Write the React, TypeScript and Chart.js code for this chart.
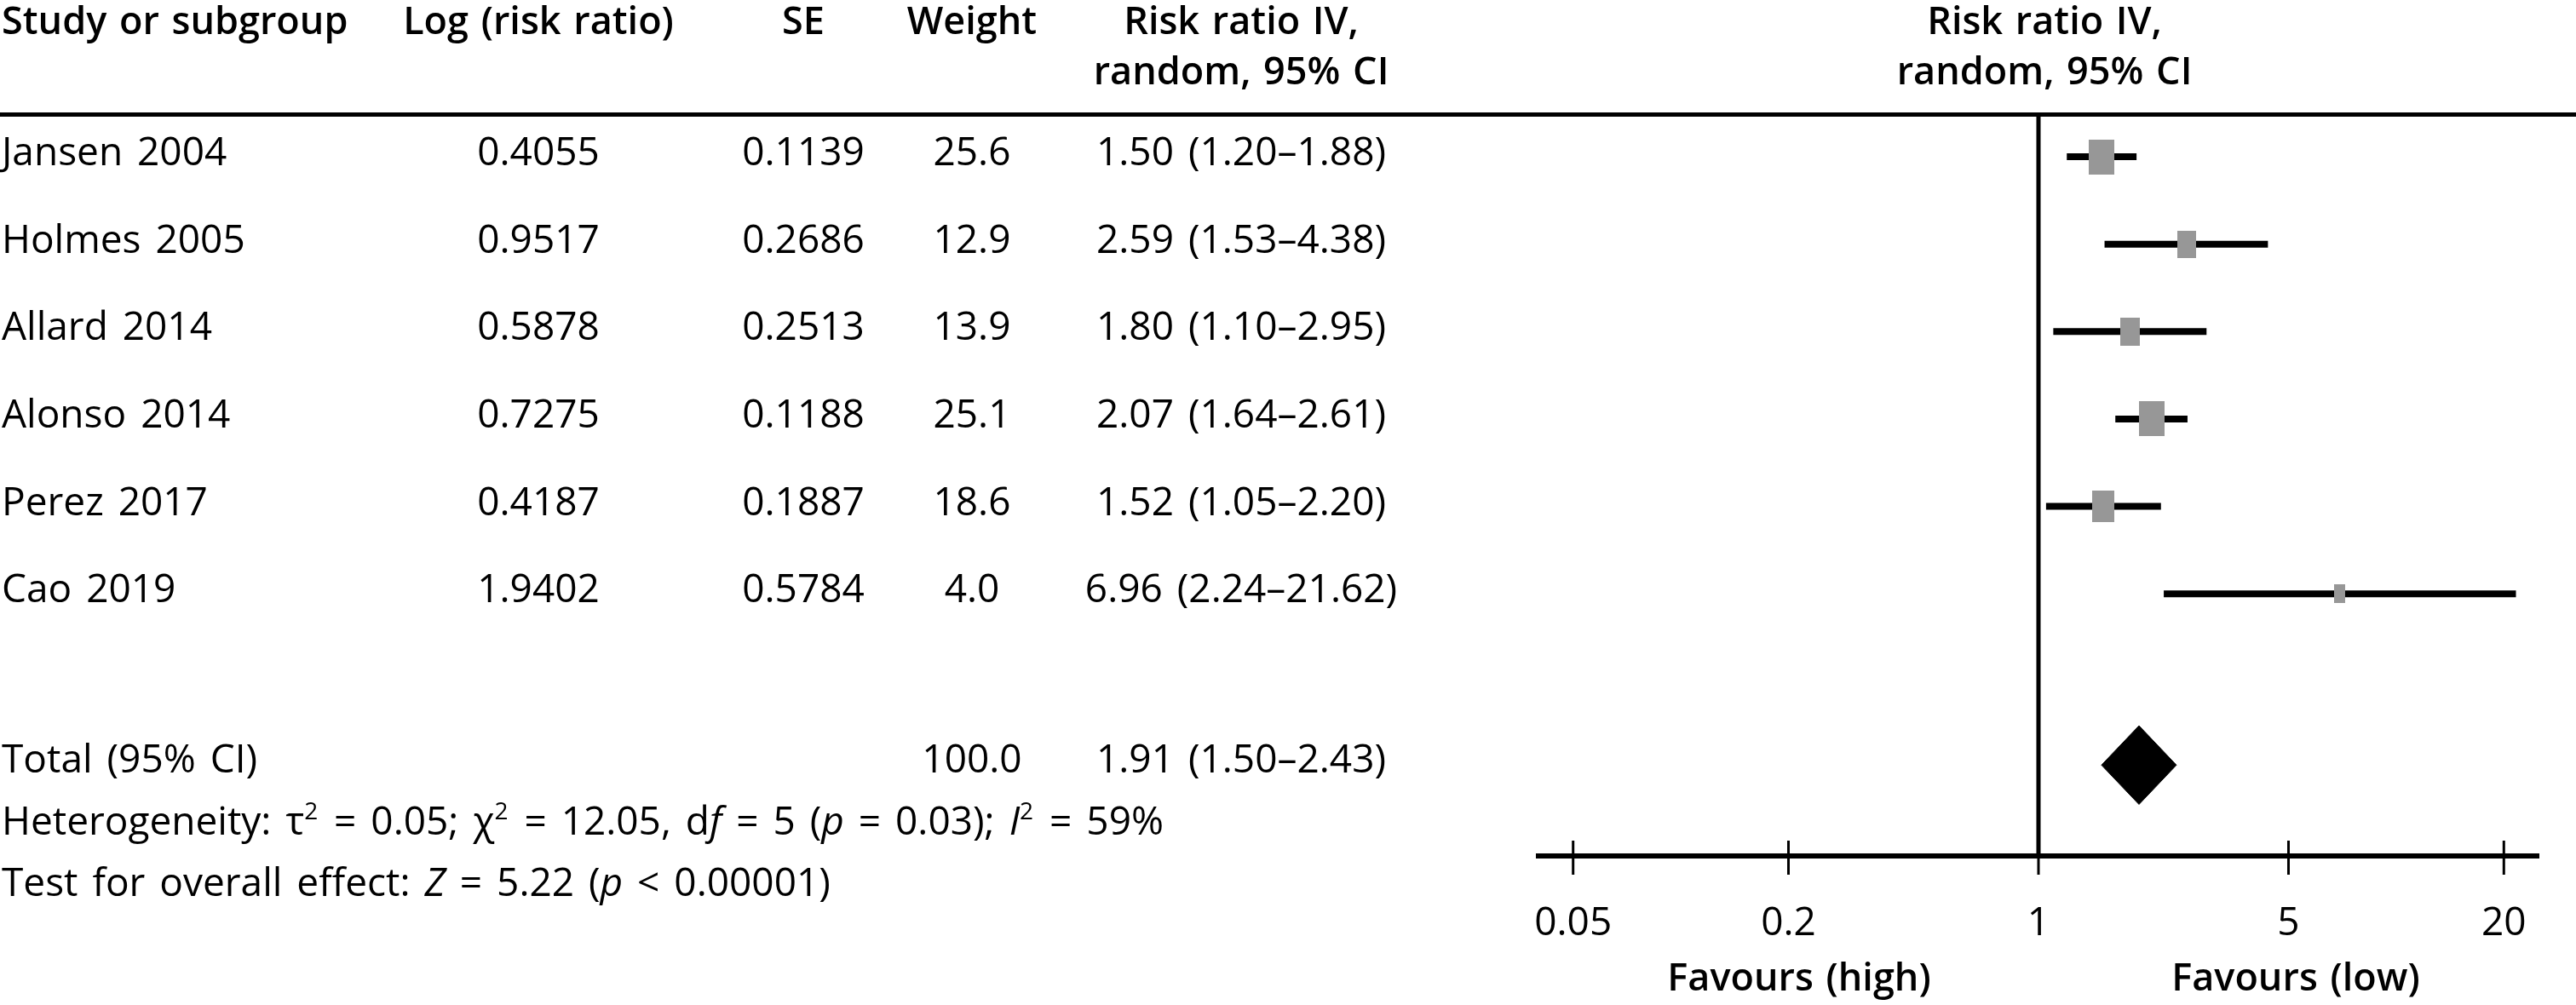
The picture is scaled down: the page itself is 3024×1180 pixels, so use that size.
import React, { useEffect, useRef } from 'react';
import { Chart, registerables } from 'chart.js';

Chart.register(...registerables);

// ---------- data ----------
const studies = ['Jansen 2004', 'Holmes 2005', 'Allard 2014', 'Alonso 2014', 'Perez 2017', 'Cao 2019'];
const logRiskRatio = [0.4055, 0.9517, 0.5878, 0.7275, 0.4187, 1.9402];
const seValues = [0.1139, 0.2686, 0.2513, 0.1188, 0.1887, 0.5784];
const weights = [25.6, 12.9, 13.9, 25.1, 18.6, 4.0];
const riskRatio = [1.5, 2.59, 1.8, 2.07, 1.52, 6.96];
const ciLow = [1.2, 1.53, 1.1, 1.64, 1.05, 2.24];
const ciHigh = [1.88, 4.38, 2.95, 2.61, 2.2, 21.62];
const totalWeight = 100.0;
const totalRR = 1.91;
const totalLow = 1.5;
const totalHigh = 2.43;
const xTicks = [0.05, 0.2, 1, 5, 20];
const studyRows = [1, 2, 3, 4, 5, 6];
const totalRow = 7.96;

// ---------- styles ----------
const FAMILY = "'Open Sans', 'Noto Sans', sans-serif";
const REG = `46px ${FAMILY}`;
const ITAL = `italic 46px ${FAMILY}`;
const SUP = `28px ${FAMILY}`;
const BOLD = `600 45px ${FAMILY}`;
const BOX_COLOR = '#979797';
const DIAMOND_HALF = 0.45;
const WORD_GAP = 5;

const COL_STUDY = 2;
const COL_LOG = 632;
const COL_SE = 943;
const COL_WT = 1141;
const COL_CI = 1457;
const COL_PLOT_HEAD = 2400;

const fmtCI = (v: number, lo: number, hi: number) =>
  `${v.toFixed(2)} (${lo.toFixed(2)}\u2013${hi.toFixed(2)})`;

type Seg = { t: string; k?: 'i' | 's' };

const hetSegs: Seg[] = [
  { t: 'Heterogeneity: \u03c4' },
  { t: '2', k: 's' },
  { t: ' = 0.05; \u03c7' },
  { t: '2', k: 's' },
  { t: ' = 12.05, d' },
  { t: 'f', k: 'i' },
  { t: ' = 5 (' },
  { t: 'p', k: 'i' },
  { t: ' = 0.03); ' },
  { t: 'I', k: 'i' },
  { t: '2', k: 's' },
  { t: ' = 59%' },
];
const testSegs: Seg[] = [
  { t: 'Test for overall effect: ' },
  { t: 'Z', k: 'i' },
  { t: ' = 5.22 (' },
  { t: 'p', k: 'i' },
  { t: ' < 0.00001)' },
];

// width of a string with extra word spacing
function wide(ctx: CanvasRenderingContext2D, t: string, gap: number) {
  const spaces = (t.match(/ /g) || []).length;
  return ctx.measureText(t).width + spaces * gap;
}

// draw a string, adding extra gap at each space
function drawSpaced(ctx: CanvasRenderingContext2D, t: string, x: number, y: number, gap: number) {
  const parts = t.split(' ');
  let cx = x;
  const sp = ctx.measureText(' ').width + gap;
  parts.forEach((p, i) => {
    if (p) ctx.fillText(p, cx, y);
    cx += ctx.measureText(p).width;
    if (i < parts.length - 1) cx += sp;
  });
  return cx;
}

function text(ctx: CanvasRenderingContext2D, t: string, x: number, y: number, font: string, align: 'left' | 'center', gap = 0) {
  ctx.font = font;
  ctx.textAlign = 'left';
  ctx.textBaseline = 'alphabetic';
  ctx.fillStyle = '#000';
  const w = wide(ctx, t, gap);
  const sx = align === 'center' ? x - w / 2 : x;
  drawSpaced(ctx, t, sx, y, gap);
}

function rich(ctx: CanvasRenderingContext2D, segs: Seg[], x: number, y: number) {
  let cx = x;
  ctx.textAlign = 'left';
  ctx.textBaseline = 'alphabetic';
  ctx.fillStyle = '#000';
  for (const s of segs) {
    ctx.font = s.k === 'i' ? ITAL : s.k === 's' ? SUP : REG;
    const dy = s.k === 's' ? -18 : 0;
    cx = drawSpaced(ctx, s.t, cx, y + dy, WORD_GAP) + (s.k === 's' ? 2 : 0);
  }
}

const forestPlugin = {
  id: 'forestTable',
  beforeDatasetsDraw(chart: any) {
    const { ctx, chartArea, scales } = chart;
    const x1 = scales.x.getPixelForValue(1);
    ctx.save();
    ctx.strokeStyle = '#000';
    ctx.lineWidth = 5;
    ctx.beginPath();
    ctx.moveTo(x1, chartArea.top);
    ctx.lineTo(x1, chartArea.bottom);
    ctx.stroke();
    ctx.restore();
  },
  afterDraw(chart: any) {
    const { ctx, chartArea, scales } = chart;
    const xs = scales.x;
    const ys = scales.y;
    ctx.save();
    // header rule
    ctx.strokeStyle = '#000';
    ctx.lineWidth = 5;
    ctx.beginPath();
    ctx.moveTo(0, chartArea.top - 0.5);
    ctx.lineTo(chart.width, chartArea.top - 0.5);
    ctx.stroke();
    // ticks crossing the axis
    ctx.lineWidth = 3;
    for (const v of xTicks) {
      const px = xs.getPixelForValue(v);
      ctx.beginPath();
      ctx.moveTo(px, chartArea.bottom - 18);
      ctx.lineTo(px, chartArea.bottom + 22);
      ctx.stroke();
    }
    // headers
    const h1 = 40;
    const h2 = 99;
    text(ctx, 'Study or subgroup', COL_STUDY, h1, BOLD, 'left', 3);
    text(ctx, 'Log (risk ratio)', COL_LOG, h1, BOLD, 'center', 3);
    text(ctx, 'SE', COL_SE, h1, BOLD, 'center');
    text(ctx, 'Weight', COL_WT, h1, BOLD, 'center');
    text(ctx, 'Risk ratio IV,', COL_CI, h1, BOLD, 'center', 3);
    text(ctx, 'random, 95% CI', COL_CI, h2, BOLD, 'center', 3);
    text(ctx, 'Risk ratio IV,', COL_PLOT_HEAD, h1, BOLD, 'center', 3);
    text(ctx, 'random, 95% CI', COL_PLOT_HEAD, h2, BOLD, 'center', 3);
    // study rows
    studies.forEach((s, i) => {
      const by = ys.getPixelForValue(studyRows[i]) + 10;
      text(ctx, s, COL_STUDY, by, REG, 'left', WORD_GAP);
      text(ctx, logRiskRatio[i].toFixed(4), COL_LOG, by, REG, 'center');
      text(ctx, seValues[i].toFixed(4), COL_SE, by, REG, 'center');
      text(ctx, weights[i].toFixed(1), COL_WT, by, REG, 'center');
      text(ctx, fmtCI(riskRatio[i], ciLow[i], ciHigh[i]), COL_CI, by, REG, 'center', WORD_GAP);
    });
    // total
    text(ctx, 'Total (95% CI)', COL_STUDY, 907, REG, 'left', WORD_GAP);
    text(ctx, totalWeight.toFixed(1), COL_WT, 907, REG, 'center');
    text(ctx, fmtCI(totalRR, totalLow, totalHigh), COL_CI, 907, REG, 'center', WORD_GAP);
    rich(ctx, hetSegs, COL_STUDY, 980);
    rich(ctx, testSegs, COL_STUDY, 1052);
    // favours labels
    text(ctx, 'Favours (high)', 2112, 1163, BOLD, 'center', 3);
    text(ctx, 'Favours (low)', 2695, 1163, BOLD, 'center', 3);
    ctx.restore();
  },
};

export default function App() {
  const ref = useRef<HTMLCanvasElement>(null);
  useEffect(() => {
    const canvas = ref.current;
    if (!canvas) return;
    const boxImgs = weights.map((w) => {
      const c = document.createElement('canvas');
      c.width = Math.round(5.8 * Math.sqrt(w) + 1);
      c.height = Math.round(6.4 * Math.sqrt(w) + 9);
      const g = c.getContext('2d')!;
      g.fillStyle = BOX_COLOR;
      g.fillRect(0, 0, c.width, c.height);
      return c;
    });

    const datasets: any[] = [
      {
        type: 'scatter',
        label: 'Studies',
        data: riskRatio.map((v, i) => ({ x: v, y: studyRows[i] })),
        pointStyle: boxImgs,
        pointRadius: 12,
        showLine: false,
        order: 0,
      },
      ...studies.map((s, i) => ({
        type: 'line',
        label: s,
        data: [
          { x: ciLow[i], y: studyRows[i] },
          { x: ciHigh[i], y: studyRows[i] },
        ],
        borderColor: '#000',
        borderWidth: 8,
        borderCapStyle: 'butt',
        pointRadius: 0,
        fill: false,
        order: 1,
      })),
      {
        type: 'line',
        label: 'Total upper',
        data: [
          { x: totalLow, y: totalRow },
          { x: totalRR, y: totalRow - DIAMOND_HALF },
          { x: totalHigh, y: totalRow },
        ],
        borderColor: '#000',
        backgroundColor: '#000',
        borderWidth: 1,
        pointRadius: 0,
        fill: '+1',
        order: 2,
      },
      {
        type: 'line',
        label: 'Total lower',
        data: [
          { x: totalLow, y: totalRow },
          { x: totalRR, y: totalRow + DIAMOND_HALF },
          { x: totalHigh, y: totalRow },
        ],
        borderColor: '#000',
        backgroundColor: '#000',
        borderWidth: 1,
        pointRadius: 0,
        fill: false,
        order: 3,
      },
    ];

    const chart = new Chart(canvas, {
      type: 'scatter',
      data: { datasets },
      options: {
        animation: false,
        responsive: false,
        devicePixelRatio: 1,
        layout: { padding: { left: 1806, right: 44, top: 135, bottom: 0 } },
        plugins: { legend: { display: false }, tooltip: { enabled: false } },
        scales: {
          x: {
            type: 'logarithmic',
            min: 0.04,
            max: 25,
            afterBuildTicks: (s: any) => {
              s.ticks = xTicks.map((v) => ({ value: v }));
            },
            afterFit: (s: any) => {
              s.height = 175;
              s.paddingLeft = 0;
              s.paddingRight = 0;
            },
            grid: { display: false },
            border: { display: true, color: '#000', width: 6 },
            ticks: {
              autoSkip: false,
              maxRotation: 0,
              minRotation: 0,
              padding: 44,
              color: '#000',
              font: { family: 'Open Sans', size: 46 },
              callback: (v: any) => String(v),
            },
          },
          y: {
            type: 'linear',
            min: 0.522,
            max: 9.0,
            reverse: true,
            display: false,
          },
        },
      } as any,
      plugins: [forestPlugin],
    });
    return () => chart.destroy();
  }, []);

  return (
    <div style={{ position: 'absolute', left: 0, top: 0, width: 3024, height: 1180, background: '#fff' }}>
      <canvas ref={ref} width={3024} height={1180} style={{ display: 'block', width: 3024, height: 1180 }} />
    </div>
  );
}
